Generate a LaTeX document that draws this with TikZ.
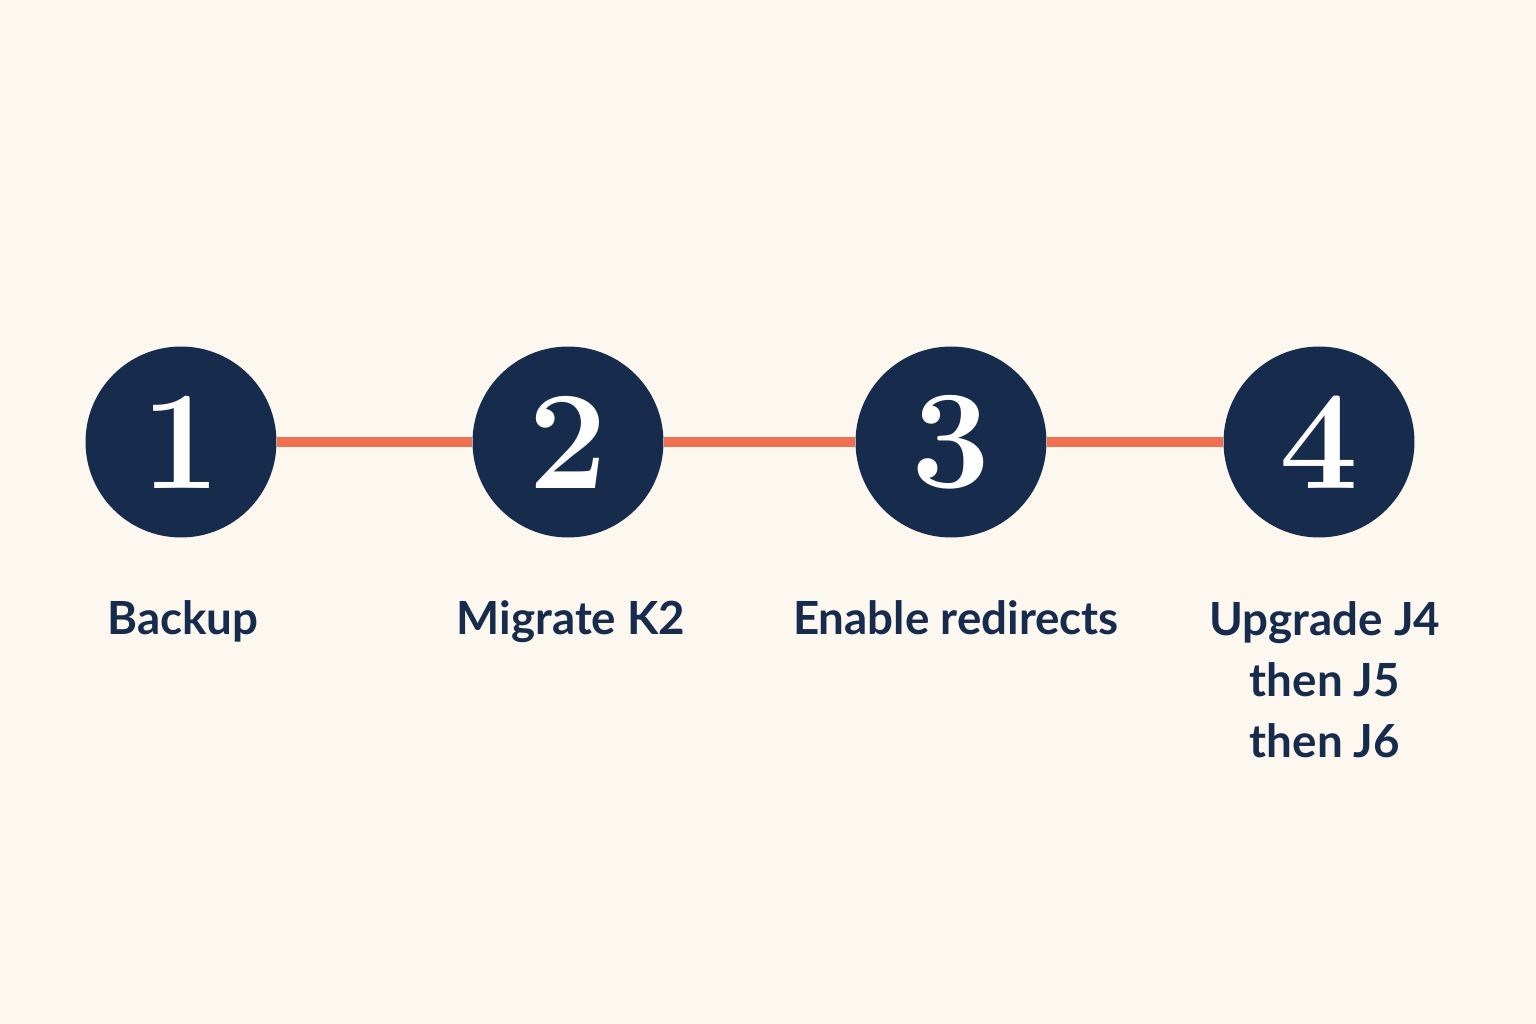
\documentclass[tikz,border=0pt]{standalone}
\usepackage{fontspec}
\setsansfont{Lato}
\usetikzlibrary{positioning}
\definecolor{navy}{HTML}{172B4D}
\definecolor{coral}{HTML}{F07050}
\definecolor{paper}{HTML}{FCF8F0}
\begin{document}
\begin{tikzpicture}[x=0.02cm, y=-0.02cm,
    stepnode/.style={circle, fill=navy, minimum size=3.82cm, inner sep=0pt,
        text=white, font=\fontsize{80}{80}\selectfont\bfseries},
    steptext/.style={anchor=base, text=navy, align=center,
        font=\sffamily\bfseries\fontsize{26}{34.6}\selectfont},
    link/.style={coral, line width=0.2cm}]
    \fill[paper] (0,0) rectangle (1536,1024);
    \node[stepnode] (s1) at (181,442) {1};
    \node[stepnode] (s2) at (568,442) {2};
    \node[stepnode] (s3) at (951,442) {3};
    \node[stepnode] (s4) at (1319,442) {4};
    \draw[link] (s1) -- (s2);
    \draw[link] (s2) -- (s3);
    \draw[link] (s3) -- (s4);
    \node[steptext] (t1) at (183,634) {Backup};
    \node[steptext] (t2) at (571,634) {Migrate K2};
    \node[steptext] (t3) at (956,634) {Enable redirects};
    % base of a multi-line node is its last line
    \node[steptext] (t4) at (1325,757) {Upgrade J4\\then J5\\then J6};
\end{tikzpicture}
\end{document}
